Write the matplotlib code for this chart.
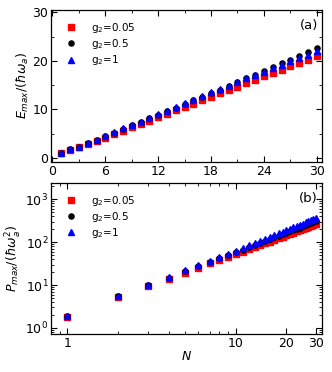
import matplotlib
matplotlib.use("Agg")
import matplotlib.pyplot as plt
import numpy as np
from matplotlib.ticker import MultipleLocator, LogLocator, NullFormatter, FixedLocator, FixedFormatter

N = list(range(1, 31))
labels = ["g$_2$=0.05", "g$_2$=0.5", "g$_2$=1"]
colors = ["#ff0000", "#000000", "#0000ff"]
markers = ["s", "o", "^"]

E_g005 = [1.0, 1.7, 2.2, 2.9, 3.5, 4.2, 4.9, 5.6, 6.3, 7.0, 7.7, 8.4, 9.1, 9.8, 10.5,
          11.2, 11.9, 12.6, 13.3, 14.0, 14.7, 15.4, 16.1, 16.8, 17.5, 18.2, 18.9, 19.6, 20.3, 21.1]
E_g05 = [1.0, 1.8, 2.3, 3.0, 3.7, 4.5, 5.2, 5.9, 6.7, 7.4, 8.2, 8.9, 9.6, 10.4, 11.1,
         11.9, 12.6, 13.4, 14.1, 14.9, 15.6, 16.4, 17.2, 17.9, 18.7, 19.5, 20.3, 21.0, 21.8, 22.6]
E_g1 = [1.0, 1.8, 2.3, 3.0, 3.8, 4.6, 5.3, 6.1, 6.8, 7.5, 8.3, 9.0, 9.7, 10.5, 11.3,
        12.0, 12.7, 13.5, 14.2, 14.9, 15.6, 16.4, 17.1, 17.8, 18.5, 19.2, 19.9, 20.6, 21.3, 22.0]

P_g005 = [1.8, 5.2, 9.3, 14.0, 19.5, 25.5, 32, 38.5, 45, 52, 60, 68, 76, 85, 94,
          103, 113, 123, 134, 145, 156, 167, 178, 190, 202, 214, 226, 239, 252, 265]
P_g05 = [1.9, 5.5, 10.0, 15.0, 21.0, 27.5, 34, 42, 50, 59, 67, 77, 86, 96, 107,
         118, 129, 141, 153, 166, 179, 192, 206, 220, 234, 249, 264, 279, 295, 311]
P_g1 = [1.9, 5.6, 10.3, 15.8, 22.0, 29, 37, 45, 54, 64, 74, 85, 96, 108, 121,
        134, 147, 161, 176, 191, 206, 222, 238, 255, 272, 290, 308, 326, 345, 364]

E_series = [E_g005, E_g05, E_g1]
P_series = [P_g005, P_g05, P_g1]

plt.rcParams['font.family'] = ['DejaVu Sans']
plt.rcParams['mathtext.fontset'] = 'dejavusans'

fig = plt.figure(figsize=(3.32, 3.72), dpi=100)
ax1 = fig.add_axes([0.154, 0.565, 0.816, 0.408])
ax2 = fig.add_axes([0.154, 0.102, 0.816, 0.406])

ms = 3.7
for y, c, m, l in zip(E_series, colors, markers, labels):
    ax1.plot(N, y, linestyle='none', marker=m, color=c, markersize=ms, label=l)
for y, c, m, l in zip(P_series, colors, markers, labels):
    ax2.plot(N, y, linestyle='none', marker=m, color=c, markersize=ms, label=l)

ax1.set_xlim(-0.15, 30.6)
ax1.set_ylim(-0.8, 30.5)
ax1.xaxis.set_major_locator(MultipleLocator(6))
ax1.xaxis.set_minor_locator(MultipleLocator(3))
ax1.yaxis.set_major_locator(MultipleLocator(10))
ax1.yaxis.set_minor_locator(MultipleLocator(5))
ax1.set_ylabel(r'$E_{max}/(\hbar\omega_a)$', fontsize=9, labelpad=1)
ax1.text(0.985, 0.895, '(a)', transform=ax1.transAxes, ha='right', va='center', fontsize=9.5)

ax2.set_xscale('log')
ax2.set_yscale('log')
ax2.set_xlim(0.8, 32.6)
ax2.set_ylim(0.72, 2400)
ax2.xaxis.set_major_locator(FixedLocator([1, 10, 20, 30]))
ax2.xaxis.set_major_formatter(FixedFormatter(['1', '10', '20', '30']))
ax2.xaxis.set_minor_locator(LogLocator(base=10, subs=np.arange(2, 10), numticks=10))
ax2.xaxis.set_minor_formatter(NullFormatter())
ax2.yaxis.set_major_locator(LogLocator(base=10, numticks=10))
ax2.yaxis.set_minor_locator(LogLocator(base=10, subs=np.arange(2, 10), numticks=10))
ax2.yaxis.set_minor_formatter(NullFormatter())
ax2.set_ylabel(r'$P_{max}/(\hbar\omega_a^2)$', fontsize=9, labelpad=1)
ax2.set_xlabel(r'$N$', fontsize=9, labelpad=0)
ax2.text(0.985, 0.895, '(b)', transform=ax2.transAxes, ha='right', va='center', fontsize=9.5)

for ax in (ax1, ax2):
    ax.tick_params(which='both', direction='in', top=True, right=True, labelsize=9, pad=2)
    ax.tick_params(which='major', length=4, width=0.8)
    ax.tick_params(which='minor', length=2, width=0.6)
    for s in ax.spines.values():
        s.set_linewidth(0.9)
    ax.legend(loc='upper left', frameon=False, fontsize=7.5, handletextpad=1.1,
              labelspacing=0.2, borderaxespad=0.65, handlelength=1.7, markerscale=1.0)

fig.savefig('out.png', dpi=100)
